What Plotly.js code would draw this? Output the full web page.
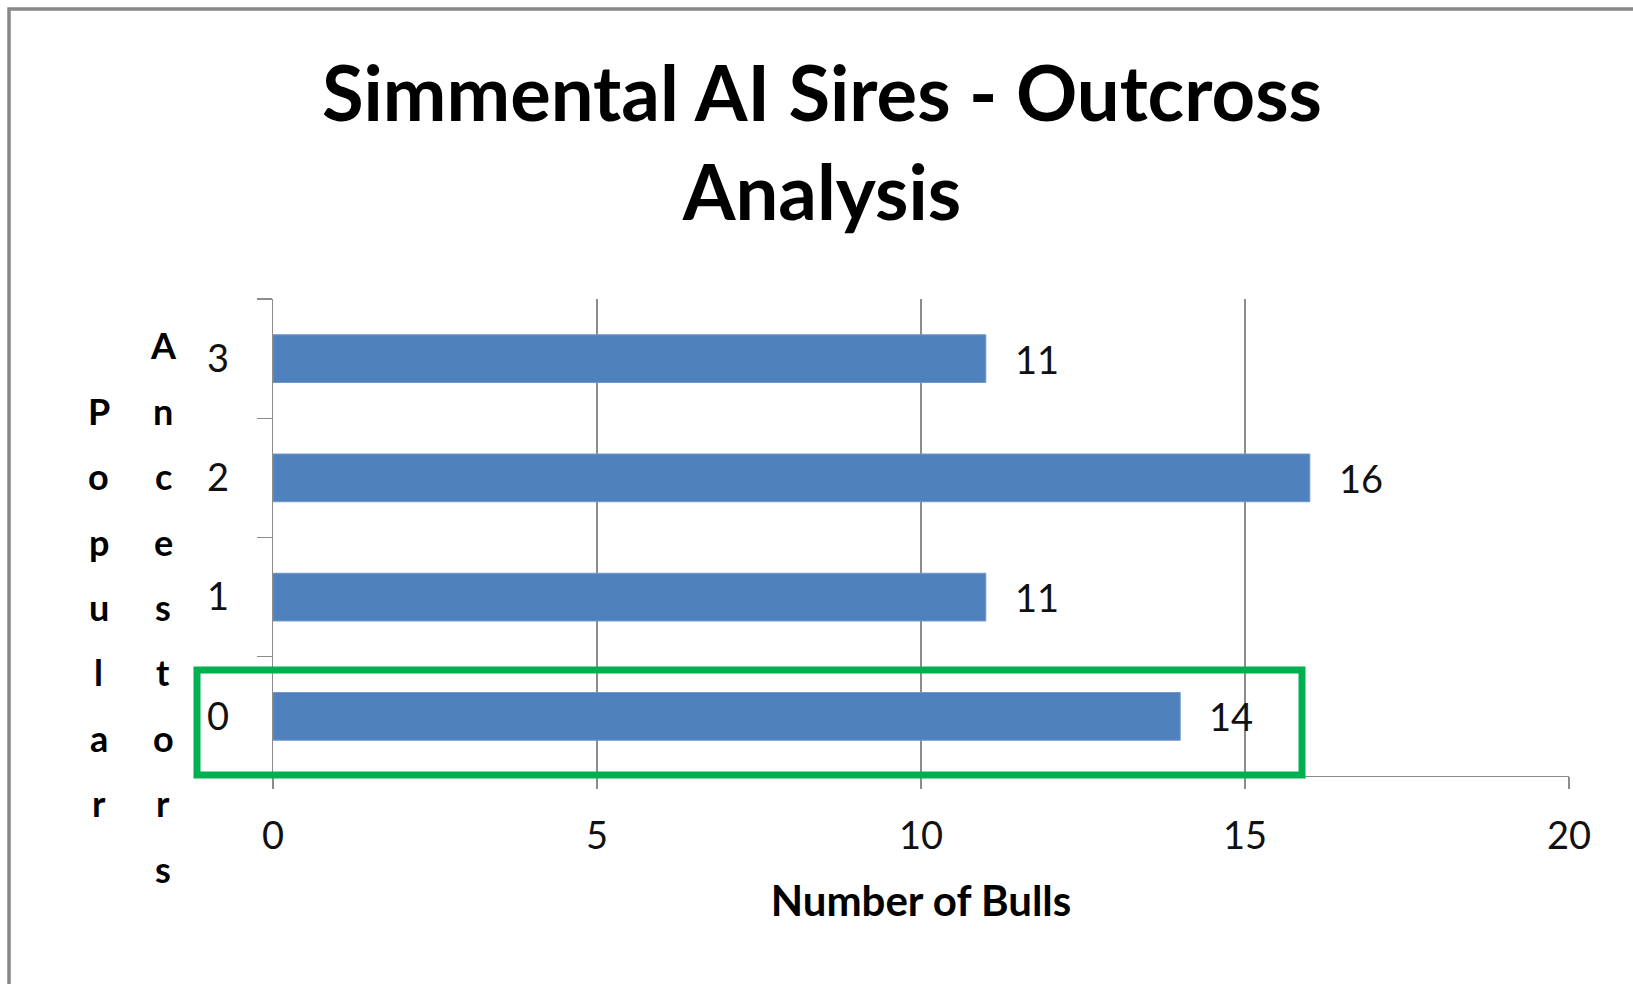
<!DOCTYPE html>
<html>
<head>
<meta charset="utf-8">
<script src="https://cdn.plot.ly/plotly-3.0.1.min.js"></script>
<style>
  html, body { margin: 0; padding: 0; background: #ffffff; }
  #chart { width: 1633px; height: 984px; }
</style>
</head>
<body>
<div id="chart"></div>
<script>
// ---- data ----
const categories = ["0", "1", "2", "3"];
const bulls = [14, 11, 16, 11];
const chartTitle = "Simmental AI Sires - Outcross<br>Analysis";
const xTitle = "Number of Bulls";
const yTitleCol1 = "Popular";
const yTitleCol2 = "Ancestors";
const xTickVals = [0, 5, 10, 15, 20];
const highlightCategory = "0";

// ---- layout geometry (pixels) ----
const W = 1633, H = 984;
const M = { l: 273, r: 64, t: 299, b: 208 };
const plotW = W - M.l - M.r, plotH = H - M.t - M.b;
const px2x = px => (px - M.l) / plotW;          // paper x
const px2y = py => (H - M.b - py) / plotH;      // paper y

const FONT = "Lato, 'Open Sans', sans-serif";
const GRAY = "#8c8c8c";

const trace = {
  type: "bar",
  orientation: "h",
  x: bulls,
  y: categories,
  marker: { color: "#4F81BD", line: { color: "#6E97CA", width: 1 } },
  hoverinfo: "x+y"
};

const annotations = [];
// data labels
bulls.forEach((v, i) => {
  annotations.push({
    x: v, y: categories[i], xref: "x", yref: "y",
    text: String(v), showarrow: false,
    xanchor: "left", yanchor: "middle", xshift: 27, yshift: 0,
    font: { family: FONT, size: 38, color: "#111" }
  });
});
// stacked y-axis title letters (two columns)
const letterStep = 65.4, letterMid = 607;
[[yTitleCol1, 99], [yTitleCol2, 163]].forEach(([word, cx]) => {
  const n = word.length;
  word.split("").forEach((ch, k) => {
    const cy = letterMid + (k - (n - 1) / 2) * letterStep;
    annotations.push({
      x: px2x(cx), y: px2y(cy), xref: "paper", yref: "paper",
      text: ch, showarrow: false, xanchor: "center", yanchor: "middle",
      font: { family: FONT, size: 36, color: "#000", weight: "bold" }
    });
  });
});

const shapes = [
  // outer chart border (left and top visible)
  { type: "rect", xref: "paper", yref: "paper",
    x0: px2x(9), x1: px2x(W + 20), y0: px2y(9), y1: px2y(H + 20),
    line: { color: "#888888", width: 3.5 }, fillcolor: "rgba(0,0,0,0)", layer: "above" },
  // green highlight box around the "0" bar
  { type: "rect", xref: "paper", yref: "paper",
    x0: px2x(197), x1: px2x(1302), y0: px2y(670), y1: px2y(775),
    line: { color: "#00B050", width: 7 }, fillcolor: "rgba(0,0,0,0)", layer: "above" }
];

const layout = {
  width: W, height: H,
  margin: M,
  paper_bgcolor: "#ffffff",
  plot_bgcolor: "#ffffff",
  showlegend: false,
  bargap: 0.6,
  font: { family: FONT, color: "#000" },
  title: {
    text: chartTitle,
    font: { family: FONT, size: 76, color: "#000", weight: "bold" },
    xref: "container", x: 822 / W, xanchor: "center",
    yref: "container", y: 1 - 121 / H, yanchor: "top"
  },
  xaxis: {
    range: [0, 20],
    tickvals: xTickVals,
    ticks: "outside", ticklen: 12, tickcolor: GRAY, tickwidth: 1.3,
    showgrid: true, gridcolor: GRAY, gridwidth: 1.3,
    showline: true, linecolor: GRAY, linewidth: 1.3,
    zeroline: false,
    ticklabelstandoff: 14,
    tickfont: { family: FONT, size: 38, color: "#111" },
    title: { text: xTitle, standoff: 30,
             font: { family: FONT, size: 42, color: "#000", weight: "bold" } },
    fixedrange: true
  },
  yaxis: {
    type: "category",
    categoryorder: "array", categoryarray: categories,
    ticks: "outside", tickson: "boundaries", ticklen: 15, tickcolor: GRAY, tickwidth: 1.3,
    showgrid: false,
    showline: true, linecolor: GRAY, linewidth: 1.3,
    zeroline: false,
    ticklabelstandoff: 35,
    tickfont: { family: FONT, size: 38, color: "#111" },
    fixedrange: true
  },
  annotations: annotations,
  shapes: shapes
};

Plotly.newPlot("chart", [trace], layout, { displayModeBar: false, staticPlot: true });
</script>
</body>
</html>
